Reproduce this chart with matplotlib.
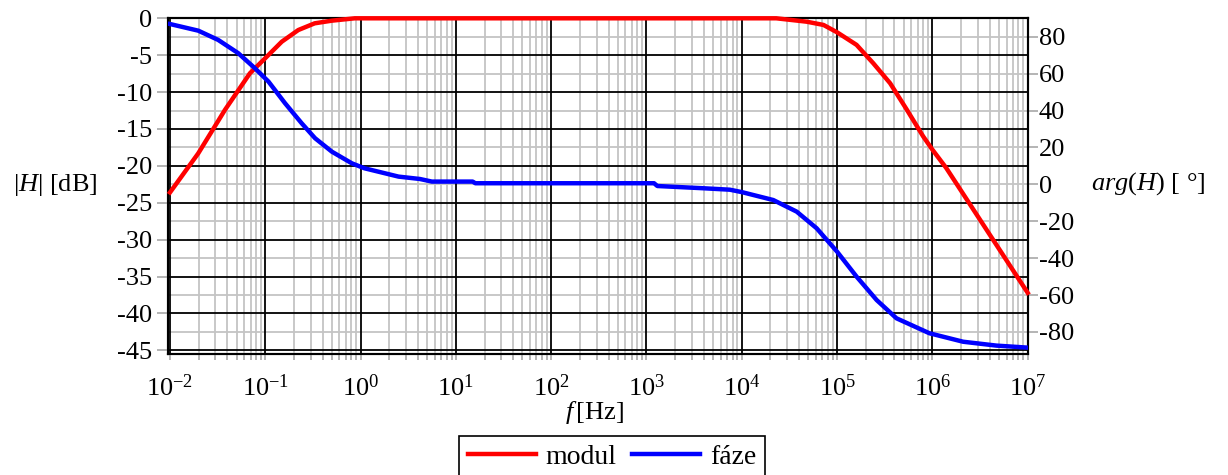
import numpy as np
import matplotlib
matplotlib.use('Agg')
import matplotlib.pyplot as plt
from matplotlib.ticker import LogLocator, NullFormatter

plt.rcParams['font.family'] = 'Liberation Serif'
plt.rcParams['mathtext.fontset'] = 'custom'
plt.rcParams['mathtext.rm'] = 'Liberation Serif'
plt.rcParams['mathtext.it'] = 'Liberation Serif:italic'
plt.rcParams['axes.unicode_minus'] = False

# modul |H| in dB
f_mod = [0.01, 0.0198, 0.0378, 0.069, 0.1, 0.149, 0.222, 0.33, 0.5, 0.87,
         2.3e4, 4.8e4, 7.2e4, 1e5, 1.6e5, 2.4e5, 3.6e5, 5.4e5, 8.0e5, 1e6,
         1.4e6, 1e7]
mod_db = [-23.6, -18.3, -12.4, -7.45, -5.4, -3.17, -1.59, -0.68, -0.32, 0.0,
          0.0, -0.46, -0.9, -1.9, -3.6, -6.1, -8.8, -12.4, -16.0, -17.8,
          -20.3, -37.2]

# faze arg(H) in degrees
f_ph = [0.01, 0.0198, 0.032, 0.052, 0.078, 0.108, 0.161, 0.241, 0.333, 0.5,
        0.81, 1.1, 2.5, 4.2, 5.6, 15, 16, 1.2e3, 1.3e3, 3.9e3, 7.5e3, 1e4,
        2.14e4, 3.77e4, 6.1e4, 1e5, 1.6e5, 2.6e5, 4.2e5, 9.3e5, 2.1e6, 4.7e6,
        1e7]
phase = [86.9, 83.3, 78.3, 71.1, 62.9, 55.7, 44.0, 33.1, 25.0, 17.7,
         11.4, 8.7, 4.2, 2.9, 1.5, 1.5, 0.6, 0.6, -0.9, -2.1, -2.9, -4.2,
         -8.5, -14.8, -23.8, -36.5, -50.0, -62.7, -72.6, -80.7, -85.3, -87.4,
         -88.5]

db_ticks = np.arange(0, -50, -5)
deg_ticks = np.arange(-80, 100, 20)

W, H = 1228, 475
fig = plt.figure(figsize=(W / 100, H / 100), dpi=100)
ax = fig.add_axes([167.5 / W, 1 - 354 / H, (1027.7 - 167.5) / W, (354 - 18.3) / H])
ax2 = ax.twinx()
ax.set_zorder(ax2.get_zorder() + 1)
ax.patch.set_visible(False)

ax.set_xscale('log')
ax.set_xlim(10 ** -2.026, 1e7)
ax.set_ylim(-45.49, 0)
ax2.set_ylim(-91.95, 90)

ax.xaxis.set_major_locator(LogLocator(base=10, numticks=30))
ax.xaxis.set_minor_locator(LogLocator(base=10, subs=np.arange(2, 10), numticks=30))
ax.xaxis.set_minor_formatter(NullFormatter())
ax.set_yticks(db_ticks)
ax2.set_yticks(deg_ticks)

gray = '#c4c4c4'
ax.grid(which='major', axis='x', color='black', lw=1.3)
ax.grid(which='minor', axis='x', color=gray, lw=1.3)
ax.grid(which='major', axis='y', color='black', lw=1.3)
ax2.grid(which='major', axis='y', color=gray, lw=1.3)

fs = 19
ax.tick_params(axis='y', length=8, width=1.2, color='#a8a8a8', pad=3, labelsize=fs)
ax2.tick_params(axis='y', length=7, width=1.2, color='#a8a8a8', pad=1, labelsize=fs)
ax.tick_params(axis='x', which='both', length=4, width=1.2, color='#a8a8a8', pad=11, labelsize=fs)

for a in (ax, ax2):
    for s in a.spines.values():
        s.set_color('black')
        s.set_linewidth(1.5)

l1, = ax.plot(f_mod, mod_db, color='#ff0000', lw=3.2, clip_on=False, zorder=3)
l2, = ax.plot(f_ph, phase, color='#0000ff', lw=3.2, transform=ax2.transData, zorder=3)

fig.text(55 / W, 1 - 185 / H, r'$|H|$ [dB]', ha='center', va='center', fontsize=fs)
fig.text(1148 / W, 1 - 184 / H, r'$arg(H)$ [ °]', ha='center', va='center', fontsize=fs)
fig.text(594 / W, 1 - 413 / H, r'$f\,$[Hz]', ha='center', va='center', fontsize=fs)

leg = fig.legend([l1, l2], ['modul', 'fáze'], loc='upper center',
                 bbox_to_anchor=(612 / W, 1 - 436 / H), ncol=2, frameon=True,
                 fancybox=False, edgecolor='black', framealpha=1,
                 handlelength=2.45, handletextpad=0.36, columnspacing=0.55,
                 borderpad=0.3, borderaxespad=0, fontsize=20)
leg.get_frame().set_linewidth(1.2)

fig.savefig('out.png', dpi=100)
